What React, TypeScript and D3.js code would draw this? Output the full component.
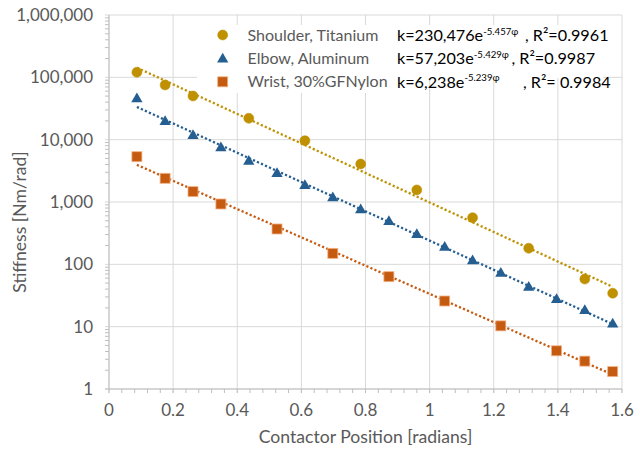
import React from 'react';
import * as d3 from 'd3';

// contactor position (rad) and stiffness (Nm/rad)
const shoulderX = [0.087, 0.175, 0.262, 0.436, 0.611, 0.785, 0.96, 1.134, 1.309, 1.484, 1.571];
const shoulderK = [120500, 75400, 50200, 22000, 9640, 4070, 1560, 560, 181, 58, 34.3];

const elbowX = [0.087, 0.175, 0.262, 0.349, 0.436, 0.524, 0.611, 0.698, 0.785, 0.873, 0.96, 1.047, 1.134, 1.222, 1.309, 1.396, 1.484, 1.571];
const elbowK = [46100, 19950, 11900, 7550, 4600, 2920, 1875, 1190, 764, 496, 307, 192, 117, 73.5, 43.8, 27.8, 18.5, 11.3];

const wristX = [0.087, 0.175, 0.262, 0.349, 0.524, 0.698, 0.873, 1.047, 1.222, 1.396, 1.484, 1.571];
const wristK = [5330, 2400, 1466, 929, 369, 150, 63.4, 25.8, 10.3, 4.1, 2.8, 1.9];

const seriesNames = ['Shoulder, Titanium', 'Elbow, Aluminum', 'Wrist, 30%GFNylon'];
const fitCoef = ['k=230,476e', 'k=57,203e', 'k=6,238e'];
const fitExp = ['-5.457φ', '-5.429φ', '-5.239φ'];
const fitR2 = [', R²=0.9961', ', R²=0.9987', ', R²= 0.9984'];

const xTicks = [0, 0.2, 0.4, 0.6, 0.8, 1, 1.2, 1.4, 1.6];
const yTicks = [1, 10, 100, 1000, 10000, 100000, 1000000];

const colors = ['#BF9000', '#255E91', '#C55A11'];
const shapes = ['circle', 'triangle', 'square'];

const W = 640;
const H = 449;
const margin = { left: 109, right: 18, top: 15, bottom: 60 };
const FONT = 'Lato, "Open Sans", sans-serif';
const GREY = '#595959';

// exponential least-squares fit (linear in ln k), like Excel's trendline
function expFit(xs: number[], ks: number[]) {
  const ly = ks.map((k) => Math.log(k));
  const mx = d3.mean(xs) as number;
  const my = d3.mean(ly) as number;
  let sxy = 0;
  let sxx = 0;
  xs.forEach((x, i) => {
    sxy += (x - mx) * (ly[i] - my);
    sxx += (x - mx) * (x - mx);
  });
  const b = sxy / sxx;
  const a = my - b * mx;
  return (x: number) => Math.exp(a + b * x);
}

function Marker({ shape, x, y, color }: { shape: string; x: number; y: number; color: string }) {
  if (shape === 'circle') {
    return <circle cx={x} cy={y} r={5} fill={color} stroke={color} strokeOpacity={0.5} />;
  }
  if (shape === 'square') {
    return <rect x={x - 5} y={y - 5} width={10} height={10} fill={color} stroke="#F4B183" strokeWidth={0.8} />;
  }
  const sym = d3.symbol().type(d3.symbolTriangle).size(55)();
  return <path d={sym as string} transform={`translate(${x},${y + 0.8})`} fill={color} />;
}

export default function App() {
  const x = d3.scaleLinear().domain([0, 1.6]).range([margin.left, W - margin.right]);
  const y = d3.scaleLog().domain([1, 1000000]).range([H - margin.bottom, margin.top]);

  const series = [
    { xs: shoulderX, ks: shoulderK },
    { xs: elbowX, ks: elbowK },
    { xs: wristX, ks: wristK },
  ];

  const minorX = d3.range(0, 1.6001, 0.04);
  const minorY: number[] = [];
  yTicks.slice(0, -1).forEach((d) => {
    for (let m = 2; m < 10; m++) minorY.push(d * m);
  });

  const x0 = margin.left;
  const x1 = W - margin.right;
  const yb = H - margin.bottom;
  const fmt = d3.format(',');

  return (
    <svg width={W} height={H} style={{ position: 'absolute', left: 0, top: 0, background: '#fff' }} fontFamily={FONT}>
      {/* gridlines */}
      {yTicks.map((t) => (
        <line key={'gy' + t} x1={x0 - 4} x2={x1} y1={y(t)} y2={y(t)} stroke="#D9D9D9" strokeWidth={1} />
      ))}
      {xTicks.map((t) => (
        <line key={'gx' + t} x1={x(t)} x2={x(t)} y1={margin.top} y2={yb + 4} stroke="#D9D9D9" strokeWidth={1} />
      ))}
      {/* minor ticks */}
      {minorY.map((t) => (
        <line key={'my' + t} x1={x0 - 4} x2={x0} y1={y(t)} y2={y(t)} stroke="#BFBFBF" strokeWidth={1} />
      ))}
      {minorX.map((t) => (
        <line key={'mx' + t} x1={x(t)} x2={x(t)} y1={yb} y2={yb + 4} stroke="#BFBFBF" strokeWidth={1} />
      ))}
      {/* axes */}
      <line x1={x0} x2={x0} y1={margin.top} y2={yb} stroke="#BFBFBF" />
      <line x1={x0 - 4} x2={x1} y1={yb} y2={yb} stroke="#BFBFBF" />

      {/* legend backgrounds */}
      <rect x={197} y={25} width={223} height={68} fill="#fff" />
      <rect x={420} y={25} width={183} height={53} fill="#fff" />

      {/* trendlines */}
      {series.map((s, i) => {
        const f = expFit(s.xs, s.ks);
        const xa = d3.min(s.xs) as number;
        const xb = d3.max(s.xs) as number;
        const pts = d3.range(0, 41).map((j) => xa + ((xb - xa) * j) / 40);
        const line = d3
          .line<number>()
          .x((d) => x(d))
          .y((d) => y(f(d)));
        return (
          <path key={'t' + i} d={line(pts) as string} fill="none" stroke={colors[i]} strokeWidth={2.3} strokeDasharray="2.2 2.2" />
        );
      })}

      {/* points */}
      {series.map((s, i) =>
        s.xs.map((d, j) => <Marker key={`p${i}-${j}`} shape={shapes[i]} x={x(d)} y={y(s.ks[j])} color={colors[i]} />)
      )}

      {/* y tick labels */}
      {yTicks.map((t) => (
        <text key={'ly' + t} x={93} y={y(t)} dy="0.35em" textAnchor="end" fontSize={17} fill={GREY}>
          {fmt(t)}
        </text>
      ))}
      {/* x tick labels */}
      {xTicks.map((t) => (
        <text key={'lx' + t} x={x(t)} y={410.5} dy="0.35em" textAnchor="middle" fontSize={17} fill={GREY}>
          {String(t)}
        </text>
      ))}

      {/* axis titles */}
      <text x={(x0 + x1) / 2} y={437} dy="0.35em" textAnchor="middle" fontSize={17.6} fill={GREY}>
        Contactor Position [radians]
      </text>
      <text transform={`translate(20,${222}) rotate(-90)`} dy="0.35em" textAnchor="middle" fontSize={17.6} fill={GREY}>
        Stiffness [Nm/rad]
      </text>

      {/* legend */}
      {seriesNames.map((n, i) => {
        const ly = 35 + i * 23.4;
        return (
          <g key={'lg' + i}>
            <Marker shape={shapes[i]} x={222.7} y={ly} color={colors[i]} />
            <text x={247.5} y={ly} dy="0.35em" fontSize={16} fill={GREY}>
              {n}
            </text>
          </g>
        );
      })}
      {/* fit equations */}
      {fitCoef.map((c, i) => {
        const ly = 35 + i * 23.4 + 6;
        const r2x = [525, 511.5, 523][i];
        return (
          <text key={'eq' + i} fontSize={16.2} fill="#000">
            <tspan x={397} y={ly}>{c}</tspan>
            <tspan y={ly - 6.5} fontSize={9.6}>
              {fitExp[i]}
            </tspan>
            <tspan x={r2x} y={ly}>
              {fitR2[i]}
            </tspan>
          </text>
        );
      })}
    </svg>
  );
}
